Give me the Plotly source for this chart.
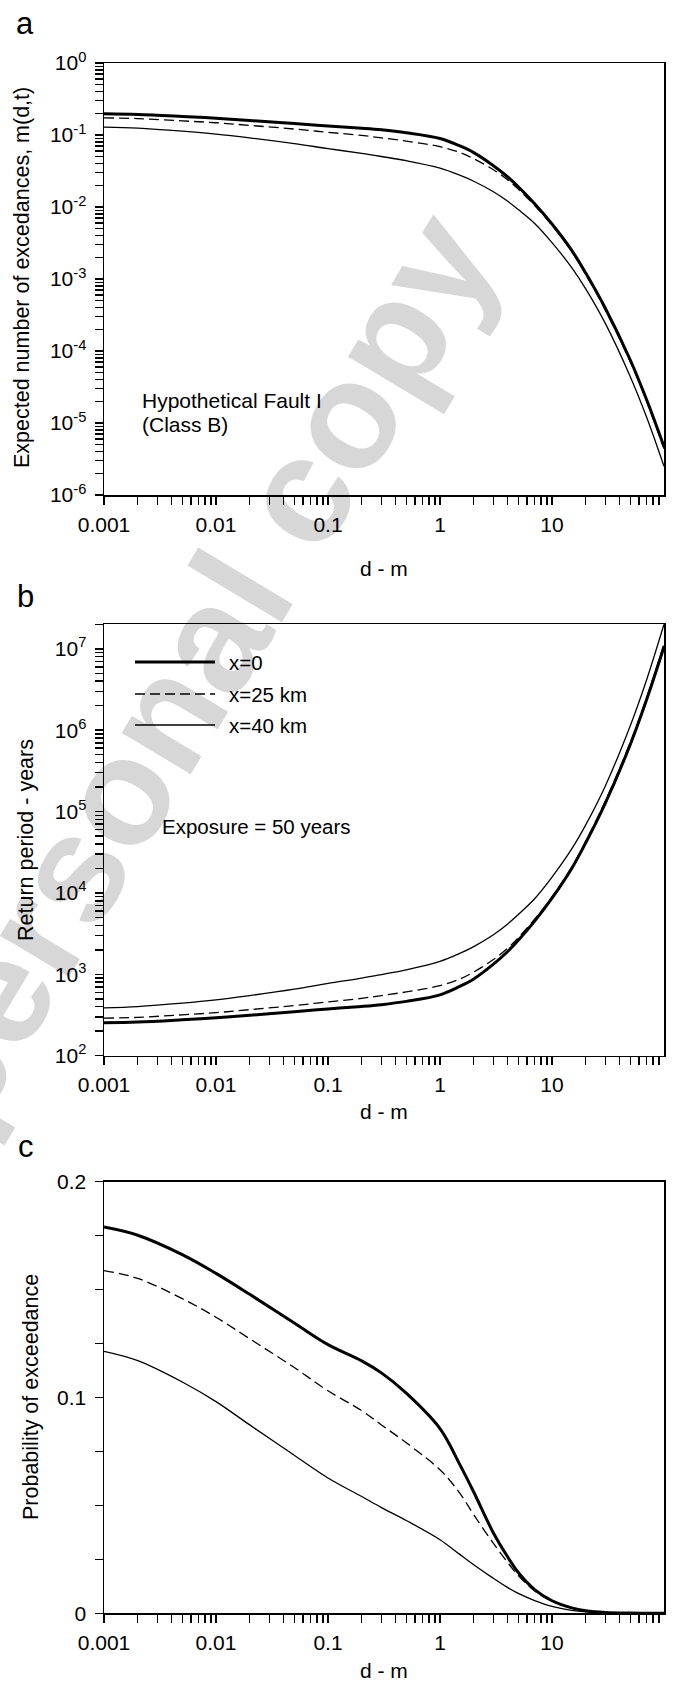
import plotly.graph_objects as go

# ---------------- data ----------------
d_m = [0.001, 0.002, 0.005, 0.01, 0.02, 0.05, 0.1, 0.2, 0.3, 0.5, 1, 1.5, 2, 3, 4, 5, 7,
       10, 15, 20, 30, 50, 70, 100]

series_names = ["x=0", "x=25 km", "x=40 km"]

# Panel a: expected number of exceedances m(d,t)
m_x0 = [0.197, 0.193, 0.181, 0.171, 0.159, 0.144, 0.133, 0.124, 0.118, 0.1076, 0.0895, 0.0705,
        0.057, 0.0375, 0.0264, 0.0191, 0.0111, 0.0058, 0.0025, 0.00121, 0.00039, 0.000075,
        0.000021, 0.0000047]
m_x25 = [0.173, 0.169, 0.157, 0.148, 0.136, 0.121, 0.109, 0.0986, 0.0913, 0.0823, 0.0688, 0.0573,
         0.0468, 0.0329, 0.0240, 0.0177, 0.0105, 0.0056, 0.0024, 0.00116, 0.00037, 0.000071,
         0.00002, 0.0000044]
m_x40 = [0.129, 0.1245, 0.113, 0.103, 0.0913, 0.076, 0.0647, 0.0556, 0.0503, 0.0440, 0.0347,
         0.0277, 0.0228, 0.0163, 0.0121, 0.0092, 0.0059, 0.0032, 0.00144, 0.00073, 0.00024,
         0.000044, 0.000012, 0.0000025]

# Panel b: return period (years)
T_x0 = [254, 259, 276, 292, 314, 347, 376, 403, 424, 465, 559, 709, 877, 1333, 1894, 2618, 4505,
        8621, 20000, 41300, 128000, 667000, 2380000, 10600000]
T_x25 = [289, 296, 318, 338, 368, 413, 459, 507, 548, 608, 727, 873, 1068, 1520, 2083, 2825, 4762,
         8929, 20800, 43100, 135000, 704000, 2500000, 11400000]
T_x40 = [388, 402, 442, 485, 548, 658, 773, 899, 994, 1136, 1441, 1805, 2193, 3067, 4132, 5435,
         8475, 15625, 34700, 68500, 208000, 1136000, 4170000, 20000000]

# Panel c: probability of exceedance
P_x0 = [0.179, 0.1752, 0.1662, 0.1575, 0.1478, 0.1345, 0.1245, 0.117, 0.1114, 0.102, 0.0856,
        0.069, 0.0562, 0.0372, 0.0263, 0.0189, 0.011, 0.0058, 0.0025, 0.0012, 0.0004, 0.0001,
        0.00002, 0.000005]
P_x25 = [0.1588, 0.1552, 0.1458, 0.1372, 0.1272, 0.1139, 0.1031, 0.0939, 0.0873, 0.079, 0.0665,
         0.0557, 0.0457, 0.0324, 0.0237, 0.0175, 0.0104, 0.0056, 0.0024, 0.0012, 0.0004, 0.0001,
         0.00002, 0.000004]
P_x40 = [0.1214, 0.1171, 0.1072, 0.0981, 0.0873, 0.0732, 0.0627, 0.0541, 0.049, 0.043, 0.0341,
         0.0273, 0.0225, 0.0162, 0.012, 0.0092, 0.0059, 0.0032, 0.0014, 0.0007, 0.00024,
         0.00004, 0.00001, 0.0000025]

x_tick_vals = [0.001, 0.01, 0.1, 1, 10]
x_tick_text = ["0.001", "0.01", "0.1", "1", "10"]
ya_exps = [-6, -5, -4, -3, -2, -1, 0]
yb_exps = [2, 3, 4, 5, 6, 7]
yc_tick_vals = [0, 0.1, 0.2]
yc_tick_text = ["0", "0.1", "0.2"]

# ---------------- layout helpers ----------------
W, H = 675, 1682
FONT = "Liberation Sans, Arial, Helvetica, sans-serif"


def fx(p):
    return p / W


def fy(p):
    return 1 - p / H


X_DOM = [fx(104), fx(664)]
DOMS = [[fy(495), fy(63)], [fy(1055.7), fy(624.3)], [fy(1613.3), fy(1181.7)]]

line_styles = [dict(color="black", width=3),
               dict(color="black", width=1.3, dash="10px,5px"),
               dict(color="black", width=1.3)]

fig = go.Figure()

panel_data = [([m_x0, m_x25, m_x40], "x", "y"),
              ([T_x0, T_x25, T_x40], "x2", "y2"),
              ([P_x0, P_x25, P_x40], "x3", "y3")]
for series, xa, ya in panel_data:
    for vals, st, nm in zip(series, line_styles, series_names):
        fig.add_trace(go.Scatter(x=d_m, y=vals, mode="lines",
                                 line=dict(**st, shape="spline", smoothing=1.0),
                                 name=nm, xaxis=xa, yaxis=ya, showlegend=False, hoverinfo="skip"))


def log_tick_positions(lo_exp, hi_exp, top_extra=()):
    vals = []
    for e in range(lo_exp, hi_exp):
        for k in range(1, 10):
            vals.append(k * 10.0 ** e)
    vals.append(10.0 ** hi_exp)
    vals.extend(top_extra)
    return vals


def label_for(v, tvals, ttext):
    for tv, tt in zip(tvals, ttext):
        if abs(v - tv) <= 1e-9 * max(abs(tv), 1e-12):
            return tt
    return ""


xt_vals = log_tick_positions(-3, 1, top_extra=[20, 30, 40, 50, 60, 70, 80, 90])
xt_text = [label_for(v, x_tick_vals, x_tick_text) for v in xt_vals]

ya_major = [10.0 ** e for e in ya_exps]
ya_vals = log_tick_positions(-6, 0)
ya_text = [label_for(v, ya_major, ["10<sup>%d</sup>" % e for e in ya_exps]) for v in ya_vals]

yb_major = [10.0 ** e for e in yb_exps]
yb_vals = log_tick_positions(2, 7, top_extra=[2e7])
yb_text = [label_for(v, yb_major, ["10<sup>%d</sup>" % e for e in yb_exps]) for v in yb_vals]

yc_vals = [0, 0.025, 0.05, 0.075, 0.1, 0.125, 0.15, 0.175, 0.2]
yc_text = [label_for(v, yc_tick_vals, yc_tick_text) if v != 0 else "0" for v in yc_vals]

tickfont = dict(size=21, color="black", family=FONT)


def xaxis(anchor):
    return dict(type="log", range=[-3, 2], domain=X_DOM, anchor=anchor,
                showline=True, linecolor="black", linewidth=1.5, mirror=True,
                ticks="outside", ticklen=8, tickwidth=1.5, tickcolor="black",
                tickmode="array", tickvals=xt_vals, ticktext=xt_text, tickfont=tickfont,
                ticklabelstandoff=2,
                showgrid=False, zeroline=False, automargin=False)


def yaxis_common(anchor, dom):
    return dict(domain=dom, anchor=anchor, showline=True, linecolor="black", linewidth=1.5,
                mirror=True, ticks="outside", ticklen=8, tickwidth=1.5, tickcolor="black",
                tickfont=tickfont, showgrid=False, zeroline=False, automargin=False,
                ticklabelstandoff=4, tickmode="array")


ya = yaxis_common("x", DOMS[0])
ya.update(type="log", range=[-6, 0], tickvals=ya_vals, ticktext=ya_text)
yb = yaxis_common("x2", DOMS[1])
yb.update(type="log", range=[2, 7.30103], tickvals=yb_vals, ticktext=yb_text)
yc = yaxis_common("x3", DOMS[2])
yc.update(type="linear", range=[0, 0.2], tickvals=yc_vals, ticktext=yc_text)

fig.update_layout(
    width=W, height=H, margin=dict(l=0, r=0, t=0, b=0),
    paper_bgcolor="white", plot_bgcolor="rgba(0,0,0,0)",
    font=dict(family=FONT, color="black", size=20),
    xaxis=xaxis("y"), xaxis2=xaxis("y2"), xaxis3=xaxis("y3"),
    yaxis=ya, yaxis2=yb, yaxis3=yc,
    showlegend=False,
)

ann = []


def txt(text, x, y, size=20.5, angle=0, xanchor="center", color="black"):
    ann.append(dict(text=text, x=fx(x), y=fy(y), xref="paper", yref="paper", showarrow=False,
                    xanchor=xanchor, yanchor="middle", textangle=angle,
                    font=dict(size=size, color=color, family=FONT)))


# panel letters
txt("a", 25, 23, size=31)
txt("b", 25, 597, size=31)
txt("c", 26, 1146, size=31)
# axis titles
txt("Expected number of excedances, m(d,t)", 22, 278, size=21.5, angle=-90)
txt("Return period - years", 26, 840, size=21.5, angle=-90)
txt("Probability of exceedance", 31, 1397, size=21.5, angle=-90)
for yy in (568, 1111, 1670):
    txt("d - m", 384, yy, size=21)
# in-plot notes
txt("Hypothetical Fault I", 140, 400, xanchor="left", size=21)
txt("(Class B)", 140, 425, xanchor="left", size=21)
txt("Exposure = 50 years", 160, 827, xanchor="left", size=20.5)

shapes = []
# legend (panel b)
legend_rows = [662, 694, 725]
for nm, st, yy in zip(series_names, line_styles, legend_rows):
    txt(nm, 227, yy, xanchor="left", size=20.5)
    shapes.append(dict(type="line", xref="paper", yref="paper", x0=fx(135), x1=fx(215),
                       y0=fy(yy), y1=fy(yy), line=st))

# faint publisher watermark, drawn beneath the curves
shapes.append(dict(type="rect", xref="paper", yref="paper", layer="below",
                   x0=fx(175), x1=fx(185), y0=fy(667), y1=fy(657),
                   line=dict(width=0), fillcolor="rgba(0,0,0,0)",
                   label=dict(text="personal copy", textangle=-59, textposition="middle center",
                              font=dict(size=152, color="#d7d7d7", family=FONT, weight="bold"))))

fig.update_layout(annotations=ann, shapes=shapes)

fig.write_html(
    "out.html",
    config={"displayModeBar": False, "staticPlot": True},
    post_script="document.body.style.margin='0';document.body.style.padding='0';"
                "document.documentElement.style.overflow='hidden';",
)
